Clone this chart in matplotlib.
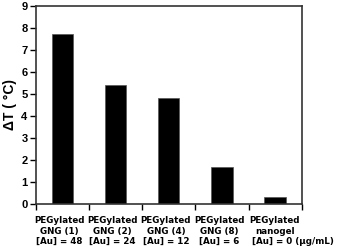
import matplotlib
matplotlib.use("Agg")
import matplotlib.pyplot as plt
import matplotlib.transforms as mtransforms

plt.rcParams['font.family'] = ['Liberation Sans', 'DejaVu Sans']

line1 = ["PEGylated", "PEGylated", "PEGylated", "PEGylated", "PEGylated"]
line2 = ["GNG (1)", "GNG (2)", "GNG (4)", "GNG (8)", "nanogel"]
line3 = ["[Au] = 48", "[Au] = 24", "[Au] = 12", "[Au] = 6", "[Au] = 0 (\u03bcg/mL)"]
values = [7.7, 5.4, 4.8, 1.7, 0.3]
yticks = [0, 1, 2, 3, 4, 5, 6, 7, 8, 9]

W, H = 341, 250
fig = plt.figure(figsize=(W / 100, H / 100), dpi=100)
left, right, top, bottom = 35.8, 301.7, 5.7, 204
ax = fig.add_axes([left / W, (H - bottom) / H, (right - left) / W, (bottom - top) / H])

x = list(range(len(values)))
ax.bar(x, values, width=0.4, color='black', edgecolor='#555555', linewidth=0.5)

ax.set_xlim(-0.5, len(values) - 0.5)
ax.set_ylim(0, 9)
ax.set_yticks(yticks)
ax.set_yticklabels([str(t) for t in yticks], fontsize=8, fontweight='bold')
ax.set_xticks([i - 0.5 for i in range(len(values) + 1)])
ax.set_xticklabels([])
ax.tick_params(axis='both', direction='out', length=4, width=1, colors='black', pad=2)

for s in ax.spines.values():
    s.set_color('#333333')
    s.set_linewidth(1.2)

ax.set_ylabel("\u0394T ( \u00b0C)", fontsize=10, fontweight='bold', labelpad=3)

trans = mtransforms.blended_transform_factory(ax.transData, ax.transAxes)
ys = [-0.096, -0.151, -0.203]
fs = 6.3
fam = ['DejaVu Sans']
n = len(values)
for i in x:
    xc = i - 0.055 if i < n - 1 else i - 0.01
    ax.text(xc, ys[0], line1[i], transform=trans, ha='center', va='baseline', fontsize=fs, fontweight='bold', family=fam)
    ax.text(xc, ys[1], line2[i], transform=trans, ha='center', va='baseline', fontsize=fs, fontweight='bold', family=fam)
    if i == n - 1:
        ax.text(i - 0.43, ys[2], line3[i], transform=trans, ha='left', va='baseline', fontsize=fs, fontweight='bold', family=fam)
    else:
        ax.text(xc, ys[2], line3[i], transform=trans, ha='center', va='baseline', fontsize=fs, fontweight='bold', family=fam)

fig.savefig("out.png", dpi=100)
